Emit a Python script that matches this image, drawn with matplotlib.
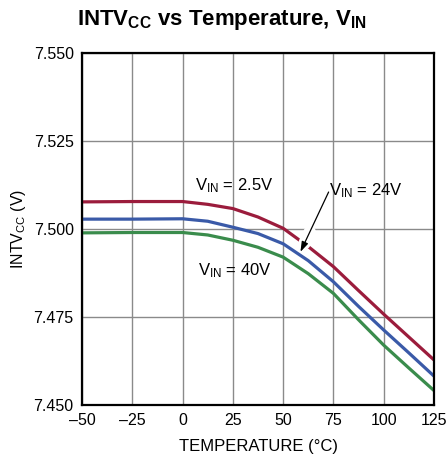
import matplotlib
matplotlib.use("Agg")
import matplotlib.pyplot as plt
from matplotlib import font_manager

# pick a narrow sans if we have one
names = {f.name for f in font_manager.fontManager.ttflist}
narrow = "Liberation Sans Narrow" if "Liberation Sans Narrow" in names else "Liberation Sans"

plt.rcParams['font.family'] = [narrow, 'DejaVu Sans']
plt.rcParams['mathtext.fontset'] = 'custom'
plt.rcParams['mathtext.rm'] = narrow
plt.rcParams['mathtext.it'] = narrow
plt.rcParams['mathtext.bf'] = narrow + ':bold'

# --- data ---
temp = [-50, -25, 0, 12.5, 25, 37.5, 50, 62.5, 75, 87.5, 100, 112.5, 125]
vin_2v5 = [7.5077, 7.5078, 7.5078, 7.5070, 7.5058, 7.5034, 7.5002, 7.4950, 7.4893,
           7.4825, 7.4758, 7.4693, 7.4628]
vin_24v = [7.5028, 7.5028, 7.5029, 7.5022, 7.5005, 7.4987, 7.4958, 7.4910, 7.4850,
           7.4780, 7.4713, 7.4648, 7.4582]
vin_40v = [7.4989, 7.4990, 7.4990, 7.4983, 7.4968, 7.4948, 7.4920, 7.4873, 7.4817,
           7.4742, 7.4670, 7.4605, 7.4541]

x_ticks = [-50, -25, 0, 25, 50, 75, 100, 125]
x_labels = ['\u201350', '\u201325', '0', '25', '50', '75', '100', '125']
y_ticks = [7.450, 7.475, 7.500, 7.525, 7.550]

fig = plt.figure(figsize=(4.46, 4.62), dpi=100)
ax = fig.add_axes([0.1839, 0.1234, 0.7892, 0.7619])

line_kw = dict(lw=2.3, solid_joinstyle='round', solid_capstyle='butt')
ax.plot(temp, vin_2v5, color='#9b1c3c', zorder=2, **line_kw)
ax.plot(temp, vin_24v, color='#3a5aa8', zorder=3, **line_kw)
ax.plot(temp, vin_40v, color='#3a8c4c', zorder=3, **line_kw)

ax.set_xlim(-50, 125)
ax.set_ylim(7.450, 7.550)
ax.set_xticks(x_ticks)
ax.set_xticklabels(x_labels)
ax.set_yticks(y_ticks)
ax.set_yticklabels([f"{v:.3f}" for v in y_ticks])
ax.tick_params(length=0, labelsize=11.5, pad=6)
ax.grid(True, color='#8a8a8a', lw=1.0)
ax.set_axisbelow(True)
for s in ax.spines.values():
    s.set_linewidth(1.6)
    s.set_zorder(6)

ax.set_xlabel('TEMPERATURE (\u00b0C)', fontsize=12, labelpad=8)
ax.set_ylabel(r'INTV$_{\mathrm{CC}}$ (V)', fontsize=11.5, labelpad=4)

# labels
ax.text(6.2, 7.5123, r'V$_{\mathrm{IN}}$ = 2.5V', fontsize=12, va='center', ha='left')
ax.text(7.5, 7.4882, r'V$_{\mathrm{IN}}$ = 40V', fontsize=12, va='center', ha='left')
ax.text(73.0, 7.5108, r'V$_{\mathrm{IN}}$ = 24V', fontsize=12, va='center', ha='left')

# white break in the red line where the arrow crosses it
ax.annotate('', xy=(60.7, 7.4960), xytext=(63.2, 7.4991),
            arrowprops=dict(arrowstyle='-', color='white', lw=9,
                            shrinkA=0, shrinkB=0), zorder=2.5)
ax.annotate('', xy=(58.6, 7.4935), xytext=(72.6, 7.5105),
            arrowprops=dict(arrowstyle='-|>,head_length=0.6,head_width=0.2',
                            color='black', lw=0.9, shrinkA=0, shrinkB=0), zorder=5)

fig.text(0.498, 0.957, r'INTV$_{\mathbf{CC}}$ vs Temperature, V$_{\mathbf{IN}}$',
         fontsize=16, fontweight='bold', ha='center', va='center')

fig.savefig('out.png', dpi=100)
